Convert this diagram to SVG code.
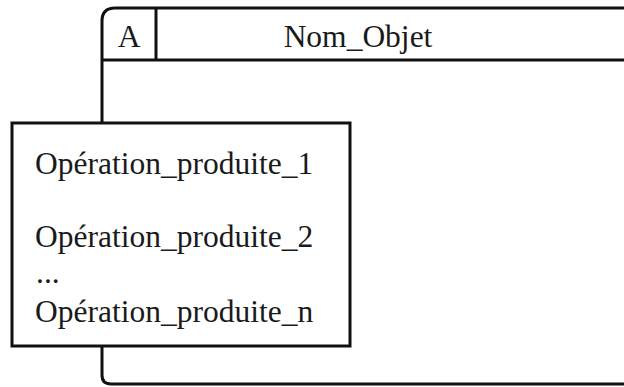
<svg xmlns="http://www.w3.org/2000/svg" width="624" height="387" viewBox="0 0 624 387">
  <style>
    .frame { fill: none; stroke: #111; stroke-width: 3; }
    .box { fill: #fff; stroke: #111; stroke-width: 3; }
    .label { font-family: "Liberation Serif", "Times New Roman", serif; font-size: 31.5px; fill: #1a1a1a; }
  </style>
  <rect width="624" height="387" fill="#fff"/>

  <!-- object frame: open on the right, header row with identifier cell -->
  <g id="objet">
    <path class="frame" d="M 630 8 H 115 Q 102 8 102 21 V 375 Q 102 384 111 384 H 630"/>
    <line class="frame" x1="102" y1="60" x2="630" y2="60"/>
    <line class="frame" x1="156" y1="8" x2="156" y2="60"/>
    <text class="label" x="129" y="47" text-anchor="middle">A</text>
    <text class="label" x="358" y="47" text-anchor="middle">Nom_Objet</text>
  </g>

  <!-- list of produced operations -->
  <g id="operations">
    <rect class="box" x="12" y="123" width="338" height="223"/>
    <text class="label" x="35" y="174">Opération_produite_1</text>
    <text class="label" x="35" y="247">Opération_produite_2</text>
    <text class="label" x="36" y="283" font-size="26">...</text>
    <text class="label" x="35" y="322">Opération_produite_n</text>
  </g>
</svg>
